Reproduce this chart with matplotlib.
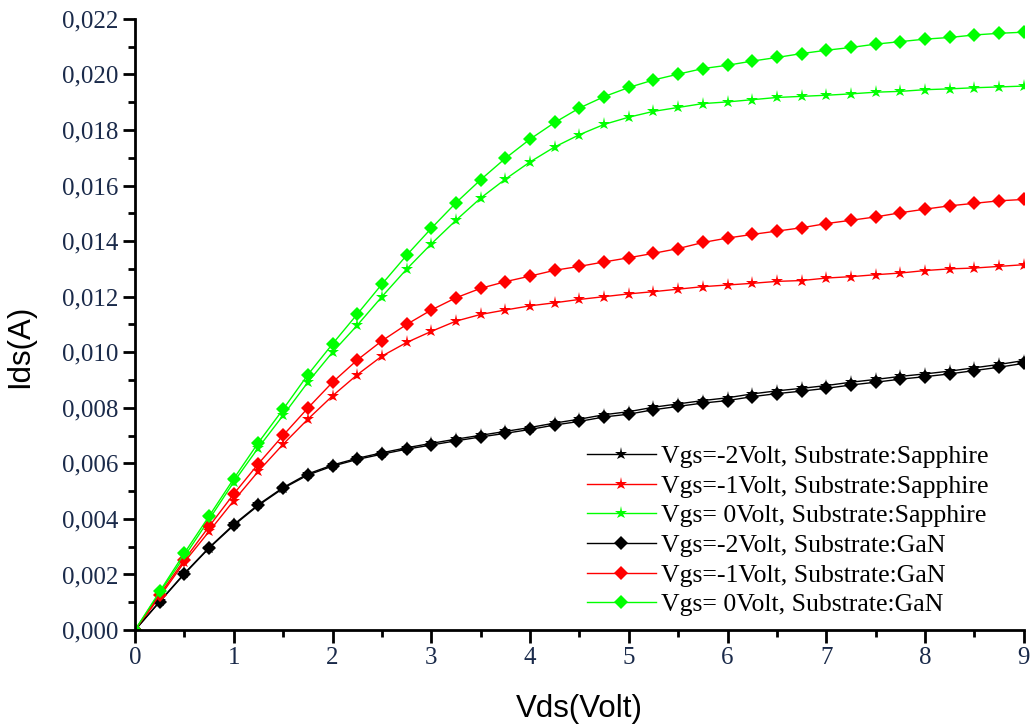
import numpy as np
import matplotlib
matplotlib.use("Agg")
import matplotlib.pyplot as plt
from matplotlib.ticker import MultipleLocator, FuncFormatter

# drain voltage sweep, 0.25 V steps
vds = np.arange(0, 9.25, 0.25)

# drain current (A) for each gate voltage / substrate
ids_sapphire_m2 = [0, 0.00103, 0.00204, 0.00297, 0.0038, 0.00452, 0.00513, 0.00562, 0.00594,
                   0.00618, 0.00638, 0.00656, 0.00672, 0.00687, 0.00701, 0.00715, 0.00729,
                   0.00745, 0.00759, 0.00775, 0.00786, 0.00802, 0.00814, 0.00826, 0.00836,
                   0.0085, 0.00861, 0.0087, 0.0088, 0.00892, 0.00902, 0.00913, 0.00922,
                   0.00932, 0.00944, 0.00956, 0.0097]
ids_sapphire_m1 = [0, 0.0012, 0.00245, 0.00355, 0.00466, 0.00572, 0.00669, 0.00759, 0.00843,
                   0.00919, 0.00986, 0.01035, 0.01075, 0.01112, 0.01136, 0.01152, 0.01167,
                   0.01178, 0.0119, 0.012, 0.0121, 0.01218, 0.01227, 0.01236, 0.01242,
                   0.01248, 0.01255, 0.01258, 0.01267, 0.01272, 0.01279, 0.01285, 0.01294,
                   0.013, 0.01303, 0.01309, 0.01315]
ids_sapphire_0 = [0, 0.00135, 0.00265, 0.00398, 0.00533, 0.00657, 0.00773, 0.00892, 0.0100,
                  0.01097, 0.0120, 0.01299, 0.0139, 0.01475, 0.01555, 0.01623, 0.01685,
                  0.01739, 0.01783, 0.0182, 0.01846, 0.01867, 0.01881, 0.01895, 0.01901,
                  0.01909, 0.01917, 0.01921, 0.01925, 0.0193, 0.01936, 0.01939, 0.01945,
                  0.01948, 0.01952, 0.01955, 0.01958]
ids_gan_m2 = [0, 0.00102, 0.00202, 0.00295, 0.00377, 0.00449, 0.0051, 0.00558, 0.0059,
              0.00614, 0.00633, 0.00651, 0.00666, 0.00681, 0.00695, 0.00708, 0.00722,
              0.00738, 0.00751, 0.00767, 0.00777, 0.00793, 0.00805, 0.00817, 0.00826,
              0.0084, 0.00851, 0.0086, 0.0087, 0.00882, 0.00892, 0.00903, 0.00912,
              0.00922, 0.00934, 0.00946, 0.0096]
ids_gan_m1 = [0, 0.00127, 0.00253, 0.00373, 0.0049, 0.00599, 0.00701, 0.00799, 0.00892,
              0.00972, 0.01041, 0.0110, 0.01152, 0.01196, 0.0123, 0.01254, 0.01274,
              0.01295, 0.01309, 0.01325, 0.0134, 0.01356, 0.01373, 0.01395, 0.01411,
              0.01424, 0.01436, 0.01448, 0.01463, 0.01475, 0.01487, 0.01502, 0.01515,
              0.01527, 0.01536, 0.01545, 0.0155]
ids_gan_0 = [0, 0.00139, 0.00277, 0.0041, 0.00545, 0.00675, 0.00795, 0.00919, 0.0103,
             0.01137, 0.01245, 0.01349, 0.01446, 0.01538, 0.01621, 0.01698, 0.01767,
             0.01827, 0.01879, 0.0192, 0.01953, 0.0198, 0.02001, 0.02021, 0.02033,
             0.02048, 0.02061, 0.02075, 0.02087, 0.02097, 0.02109, 0.02118, 0.02127,
             0.02133, 0.02142, 0.02148, 0.02152]

labels = ["Vgs=-2Volt, Substrate:Sapphire", "Vgs=-1Volt, Substrate:Sapphire",
          "Vgs= 0Volt, Substrate:Sapphire", "Vgs=-2Volt, Substrate:GaN",
          "Vgs=-1Volt, Substrate:GaN", "Vgs= 0Volt, Substrate:GaN"]

series = [ids_sapphire_m2, ids_sapphire_m1, ids_sapphire_0, ids_gan_m2, ids_gan_m1, ids_gan_0]
colors = ["black", "#ff0000", "#00ff00", "black", "#ff0000", "#00ff00"]
markers = ["*", "*", "*", "D", "D", "D"]

fig = plt.figure(figsize=(10.31, 7.25), dpi=100)
ax = fig.add_axes([0.131, 0.131, 0.862, 0.843])

for y, c, m, lab in zip(series, colors, markers, labels):
    ms = 9.5 if m == "*" else 7.5
    ax.plot(vds, y, color=c, marker=m, markersize=ms, linewidth=1, label=lab,
            markeredgewidth=0)

ax.set_xlim(0, 9)
ax.set_ylim(0, 0.022)
ax.xaxis.set_major_locator(MultipleLocator(1))
ax.xaxis.set_minor_locator(MultipleLocator(0.5))
ax.yaxis.set_major_locator(MultipleLocator(0.002))
ax.yaxis.set_minor_locator(MultipleLocator(0.001))
ax.yaxis.set_major_formatter(FuncFormatter(lambda v, p: f"{v:.3f}".replace(".", ",")))

for side in ["top", "right"]:
    ax.spines[side].set_visible(False)
for side in ["left", "bottom"]:
    ax.spines[side].set_linewidth(2)

ax.tick_params(which="major", direction="out", length=9, width=2, labelsize=18,
               colors="black", pad=3)
ax.tick_params(which="minor", direction="out", length=5, width=2)
for lbl in ax.get_xticklabels() + ax.get_yticklabels():
    lbl.set_fontfamily("Liberation Serif")
    lbl.set_color("#1a2a4a")

ax.set_xlabel("Vds(Volt)", fontsize=22.5, fontfamily="Liberation Sans")
ax.set_ylabel("Ids(A)", fontsize=22.5, fontfamily="Liberation Sans")
ax.xaxis.set_label_coords(0.5, -0.105)
ax.yaxis.set_label_coords(-0.1125, 0.465)

leg = ax.legend(loc="upper left", bbox_to_anchor=(0.569, 0.386),
                bbox_transform=fig.transFigure, frameon=False, borderpad=0,
                borderaxespad=0, handlelength=2.7, handletextpad=0.2,
                labelspacing=0.26, prop={"family": "Liberation Serif", "size": 18.5})

fig.savefig("out.png", dpi=100, facecolor="white")
